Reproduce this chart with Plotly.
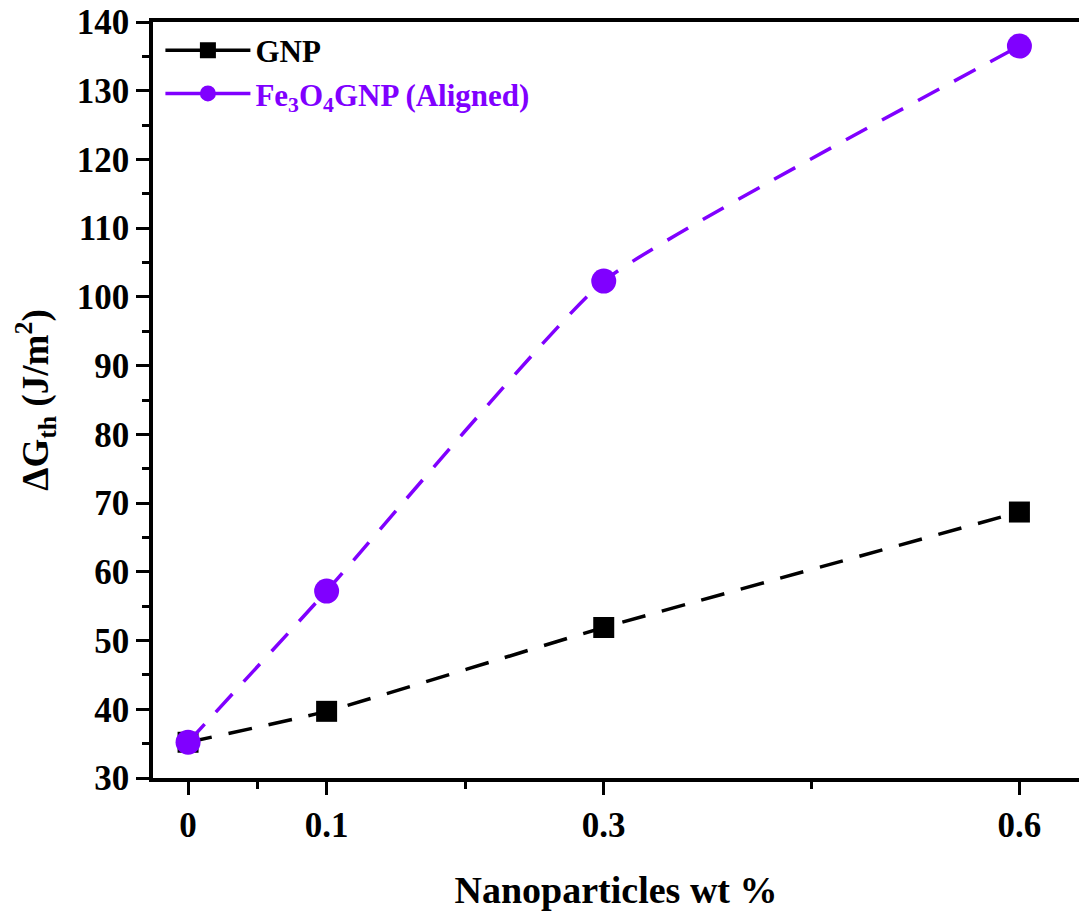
import plotly.graph_objects as go

x_vals = [0, 0.1, 0.3, 0.6]
gnp = [35.2, 39.7, 51.9, 68.7]
fe3o4_gnp = [35.2, 57.2, 102.3, 136.5]
x_major = [0, 0.1, 0.3, 0.6]
x_major_text = ["0", "0.1", "0.3", "0.6"]
x_minor = [0.05, 0.2, 0.45]

PURPLE = "#8000FF"
FONT = "Liberation Serif"
DASH = "24px,17px"

fig = go.Figure()
fig.add_trace(go.Scatter(
    x=x_vals, y=gnp, mode="lines+markers", showlegend=False,
    line=dict(color="black", width=3.5, dash=DASH, shape="spline", smoothing=0.4),
    marker=dict(symbol="square", size=21, color="black"),
))
fig.add_trace(go.Scatter(
    x=x_vals, y=fe3o4_gnp, mode="lines+markers", showlegend=False,
    line=dict(color=PURPLE, width=3.5, dash=DASH, shape="spline", smoothing=0.4),
    marker=dict(symbol="circle", size=25, color=PURPLE),
))
# legend entries (solid line samples, as in the reference legend)
fig.add_trace(go.Scatter(
    x=[None], y=[None], mode="lines+markers", name="<b>GNP</b>",
    line=dict(color="black", width=3.5),
    marker=dict(symbol="square", size=21, color="black"),
))
fig.add_trace(go.Scatter(
    x=[None], y=[None], mode="lines+markers",
    name='<span style="color:#8000FF"><b>Fe<sub>3</sub>O<sub>4</sub>GNP (Aligned)</b></span>',
    line=dict(color=PURPLE, width=3.5),
    marker=dict(symbol="circle", size=25, color=PURPLE),
))

fig.update_layout(
    width=1079, height=911,
    margin=dict(l=153, r=0, t=22, b=133),
    paper_bgcolor="white", plot_bgcolor="white",
    font=dict(family=FONT, color="black", size=34),
    showlegend=True,
    legend=dict(
        x=0.008, y=0.998, xanchor="left", yanchor="top",
        font=dict(family=FONT, size=31, color="black"),
        bgcolor="rgba(0,0,0,0)", itemwidth=85, tracegroupgap=0,
    ),
    xaxis=dict(
        range=[-0.0253, 0.643],
        tickmode="array", tickvals=x_major, ticktext=[f"<b>{t}</b>" for t in x_major_text],
        ticks="outside", ticklen=13, tickwidth=3, tickcolor="black",
        showline=True, linewidth=3.5, linecolor="black", mirror=True,
        showgrid=False, zeroline=False,
        tickfont=dict(family=FONT, size=35),
        minor=dict(tickmode="array", tickvals=x_minor, ticks="outside", ticklen=7, tickwidth=3, tickcolor="black"),
        title=dict(text="<b>Nanoparticles wt %</b>", font=dict(family=FONT, size=38), standoff=34),
    ),
    yaxis=dict(
        range=[30, 140],
        tickmode="linear", tick0=30, dtick=10,
        tickformat="d",
        ticks="outside", ticklen=13, tickwidth=3, tickcolor="black",
        showline=True, linewidth=3.5, linecolor="black", mirror=False,
        showgrid=False, zeroline=False,
        tickfont=dict(family=FONT, size=35, weight="bold"),
        minor=dict(tickmode="linear", dtick=5, ticks="outside", ticklen=7, tickwidth=3, tickcolor="black"),
        title=dict(text="<b>ΔG<sub>th</sub> (J/m<sup>2</sup>)</b>", font=dict(family=FONT, size=37), standoff=18),
    ),
)

fig.write_html("out.html")
